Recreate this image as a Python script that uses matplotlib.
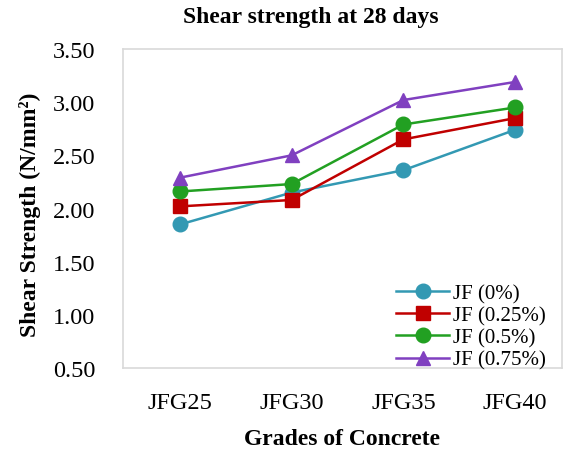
import matplotlib
matplotlib.use("Agg")
import matplotlib.pyplot as plt

categories = ["JFG25", "JFG30", "JFG35", "JFG40"]
series_names = ["JF (0%)", "JF (0.25%)", "JF (0.5%)", "JF (0.75%)"]
jf_0 = [1.85, 2.15, 2.36, 2.74]
jf_025 = [2.02, 2.08, 2.65, 2.85]
jf_05 = [2.16, 2.23, 2.79, 2.95]
jf_075 = [2.29, 2.50, 3.02, 3.19]
yticks = [0.50, 1.00, 1.50, 2.00, 2.50, 3.00, 3.50]

plt.rcParams['font.family'] = ['Liberation Serif', 'DejaVu Serif']

W, H = 571, 456
fig = plt.figure(figsize=(W / 100, H / 100), dpi=100)
ax = fig.add_axes([123 / W, 1 - 369 / H, (562 - 123) / W, (369 - 50) / H])

styles = [
    ("#3399B3", "o", 10.5),
    ("#C00000", "s", 9.5),
    ("#22A022", "o", 10.5),
    ("#8040C0", "^", 10.5),
]
x = list(range(len(categories)))
for vals, name, (c, m, ms) in zip([jf_0, jf_025, jf_05, jf_075], series_names, styles):
    ax.plot(x, vals, color=c, marker=m, markersize=ms, linewidth=1.8, label=name)

ax.set_xlim(-0.51, 3.42)
ax.set_ylim(0.5, 3.5)
ax.set_xticks(x)
ax.set_xticklabels(categories, fontsize=17.5)
ax.set_yticks(yticks)
ax.set_yticklabels([f"{v:.2f}" for v in yticks], fontsize=17.5)
ax.tick_params(length=0)
ax.tick_params(axis='x', pad=17)
ax.tick_params(axis='y', pad=20)
for s in ax.spines.values():
    s.set_color("#D9D9D9")
    s.set_linewidth(1.2)

fig.text(342 / W, 1 - 440 / H, "Grades of Concrete", fontsize=17,
         fontweight="bold", ha="center", va="center")
fig.text(30 / W, 1 - 215 / H, "Shear Strength (N/mm²)", rotation=90, fontsize=17,
         fontweight="bold", ha="center", va="center")
fig.text(311 / W, 1 - 18 / H, "Shear strength at 28 days", fontsize=17,
         fontweight="bold", ha="center", va="center")

leg = ax.legend(loc="upper left", frameon=False, fontsize=15, handlelength=2.55,
                labelspacing=0.12, handletextpad=0.2, borderaxespad=0.0, borderpad=0.0,
                bbox_to_anchor=(396 / W, 1 - 285 / H), bbox_transform=fig.transFigure)

fig.savefig("out.png", dpi=100)
